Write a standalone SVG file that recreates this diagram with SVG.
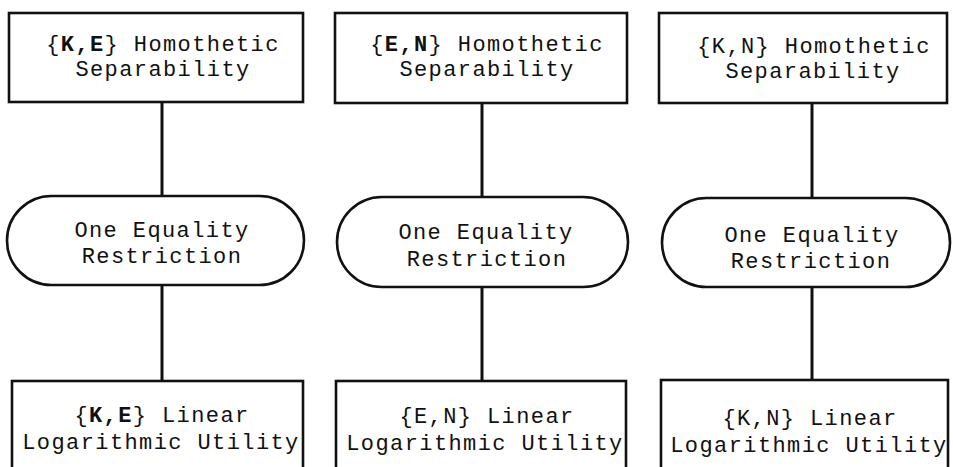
<svg xmlns="http://www.w3.org/2000/svg" width="953" height="467" viewBox="0 0 953 467">
<style>
.box{fill:#fff;stroke:#111;stroke-width:2.6}
.conn line{stroke:#111;stroke-width:3}
text{font-family:"Liberation Mono","Courier New",monospace;font-size:22px;letter-spacing:1.4px;fill:#111;text-anchor:middle}
.b{font-weight:bold}
</style>
<rect width="953" height="467" fill="#fff"/>
<g id="connectors" class="conn">
<line x1="162" y1="102" x2="162" y2="196"/>
<line x1="162" y1="285" x2="162" y2="381"/>
<line x1="482" y1="103" x2="482" y2="197"/>
<line x1="482" y1="287" x2="482" y2="381"/>
<line x1="812" y1="103" x2="812" y2="198"/>
<line x1="812" y1="287" x2="812" y2="380"/>
</g>
<g id="top1">
<rect class="box" x="9" y="13" width="294" height="89"/>
<text x="163" y="51">{<tspan class="b">K,E</tspan>} Homothetic</text>
<text x="163" y="76">Separability</text>
</g>
<g id="top2">
<rect class="box" x="335" y="13" width="292" height="90"/>
<text x="487" y="51">{<tspan class="b">E,N</tspan>} Homothetic</text>
<text x="487" y="76">Separability</text>
</g>
<g id="top3">
<rect class="box" x="659" y="13" width="288" height="90"/>
<text x="814" y="53">{K,N} Homothetic</text>
<text x="813" y="78">Separability</text>
</g>
<g id="mid1">
<rect class="box" x="7" y="196" width="297" height="89" rx="44.5"/>
<text x="162" y="237">One Equality</text>
<text x="162" y="263">Restriction</text>
</g>
<g id="mid2">
<rect class="box" x="337" y="197" width="291" height="90" rx="45"/>
<text x="486" y="239">One Equality</text>
<text x="487" y="266">Restriction</text>
</g>
<g id="mid3">
<rect class="box" x="662" y="198" width="288" height="89" rx="44.5"/>
<text x="812" y="242">One Equality</text>
<text x="811" y="268">Restriction</text>
</g>
<g id="bot1">
<rect class="box" x="12" y="381" width="291" height="100"/>
<text x="162" y="422">{<tspan class="b">K,E</tspan>} Linear</text>
<text x="161" y="449">Logarithmic Utility</text>
</g>
<g id="bot2">
<rect class="box" x="336" y="381" width="290" height="100"/>
<text x="487" y="423">{E,N} Linear</text>
<text x="485" y="450">Logarithmic Utility</text>
</g>
<g id="bot3">
<rect class="box" x="661" y="380" width="287" height="100"/>
<text x="810" y="425">{K,N} Linear</text>
<text x="809" y="452">Logarithmic Utility</text>
</g>
</svg>
